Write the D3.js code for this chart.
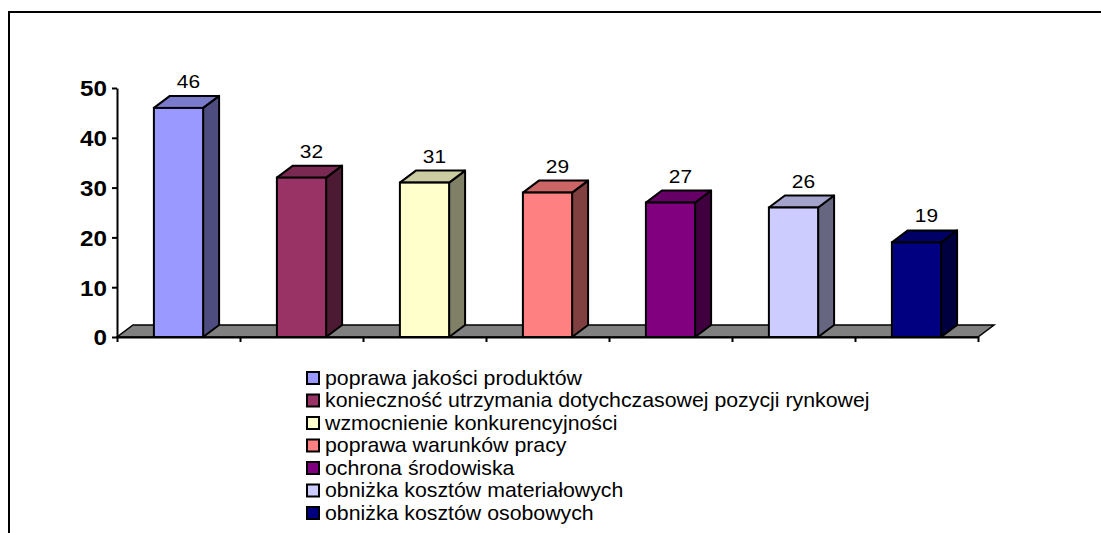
<!DOCTYPE html>
<html>
<head>
<meta charset="utf-8">
<script src="https://cdn.jsdelivr.net/npm/d3@7"></script>
<style>
  html, body { margin: 0; padding: 0; background: #fff; }
  svg { display: block; font-family: "Liberation Sans", Arial, sans-serif; }
</style>
</head>
<body>
<svg id="chart" width="1101" height="533"></svg>
<script>
// ---- data ----
const categories = [
  "poprawa jakości produktów",
  "konieczność utrzymania dotychczasowej pozycji rynkowej",
  "wzmocnienie konkurencyjności",
  "poprawa warunków pracy",
  "ochrona środowiska",
  "obniżka kosztów materiałowych",
  "obniżka kosztów osobowych"
];
const values = [46, 32, 31, 29, 27, 26, 19];
const colors = ["#9999FF", "#993366", "#FFFFCC", "#FF8080", "#800080", "#CCCCFF", "#000080"];
const yTicks = [0, 10, 20, 30, 40, 50];

// ---- layout ----
const svg = d3.select("#chart");
const X0 = 117, X1 = 978, Y0 = 337, Ytop = 88;
const DX = 16, DY = 12;

const x = d3.scaleBand().domain(categories).range([X0, X1]).paddingInner(0).paddingOuter(0);
const y = d3.scaleLinear().domain([0, 50]).range([Y0, Ytop]);
const bw = x.bandwidth() * 0.4;

// frame
svg.append("path")
  .attr("d", `M9,533 L9,12 L1101,12`)
  .attr("fill", "none").attr("stroke", "#000").attr("stroke-width", 2);

// floor
svg.append("polygon")
  .attr("points", [[X0, Y0], [X1, Y0], [X1 + DX, Y0 - DY], [X0 + DX, Y0 - DY]].map(p => p.join(",")).join(" "))
  .attr("fill", "#808080").attr("stroke", "#000").attr("stroke-width", 1.5);

// bars
const g = svg.append("g");
categories.forEach((c, i) => {
  const v = values[i];
  const bx = x(c) + (x.bandwidth() - bw) / 2;
  const by = y(v);
  const col = d3.color(colors[i]);
  const top = d3.rgb(col.r * 0.8, col.g * 0.8, col.b * 0.8);
  const side = d3.rgb(col.r * 0.5, col.g * 0.5, col.b * 0.5);
  const gb = g.append("g");
  gb.append("polygon")
    .attr("points", [[bx + bw, by], [bx + bw + DX, by - DY], [bx + bw + DX, Y0 - DY], [bx + bw, Y0]].map(p => p.join(",")).join(" "))
    .attr("fill", side).attr("stroke", "#000").attr("stroke-width", 2).attr("stroke-linejoin", "round");
  gb.append("polygon")
    .attr("points", [[bx, by], [bx + DX, by - DY], [bx + bw + DX, by - DY], [bx + bw, by]].map(p => p.join(",")).join(" "))
    .attr("fill", top).attr("stroke", "#000").attr("stroke-width", 2).attr("stroke-linejoin", "round");
  gb.append("rect")
    .attr("x", bx).attr("y", by).attr("width", bw).attr("height", Y0 - by)
    .attr("fill", colors[i]).attr("stroke", "#000").attr("stroke-width", 2);
  gb.append("text")
    .attr("transform", `translate(${bx + bw / 2 + 10},${by - DY - 8}) scale(1.1,1)`)
    .attr("text-anchor", "middle")
    .attr("font-size", 19)
    .attr("fill", "#000")
    .text(v);
});

// y axis
const yAxis = d3.axisLeft(y).tickValues(yTicks).tickSize(5).tickSizeOuter(0).tickPadding(5);
const ya = svg.append("g").attr("transform", `translate(${X0},0)`).call(yAxis);
ya.select(".domain").attr("stroke", "#000").attr("stroke-width", 2);
ya.selectAll(".tick line").attr("stroke", "#000").attr("stroke-width", 2);
ya.selectAll(".tick text")
  .attr("font-size", 22).attr("font-weight", "bold").attr("fill", "#000")
  .attr("font-family", "'Liberation Sans', Arial, sans-serif")
  .attr("dy", "0.36em")
  .attr("transform", function() { const xx = +d3.select(this).attr("x"); return `translate(${xx},0) scale(1.1,1)`; })
  .attr("x", 0);

// x axis (category boundaries)
const xb = d3.scaleLinear().domain([0, categories.length]).range([X0, X1]);
const xAxis = d3.axisBottom(xb).tickValues(d3.range(categories.length + 1)).tickSize(5).tickSizeOuter(0).tickFormat("");
const xa = svg.append("g").attr("transform", `translate(0,${Y0})`).call(xAxis);
xa.select(".domain").attr("stroke", "#000").attr("stroke-width", 2);
xa.selectAll(".tick line").attr("stroke", "#000").attr("stroke-width", 2);

// legend
const leg = svg.append("g");
categories.forEach((c, i) => {
  const cy = 378 + i * 22.5;
  leg.append("rect")
    .attr("x", 307).attr("y", cy - 6).attr("width", 12).attr("height", 12)
    .attr("fill", colors[i]).attr("stroke", "#000").attr("stroke-width", 2);
  leg.append("text")
    .attr("transform", `translate(325,${cy + 6.5}) scale(1.065,1)`)
    .attr("font-size", 20).attr("fill", "#000")
    .text(c);
});
</script>
</body>
</html>
